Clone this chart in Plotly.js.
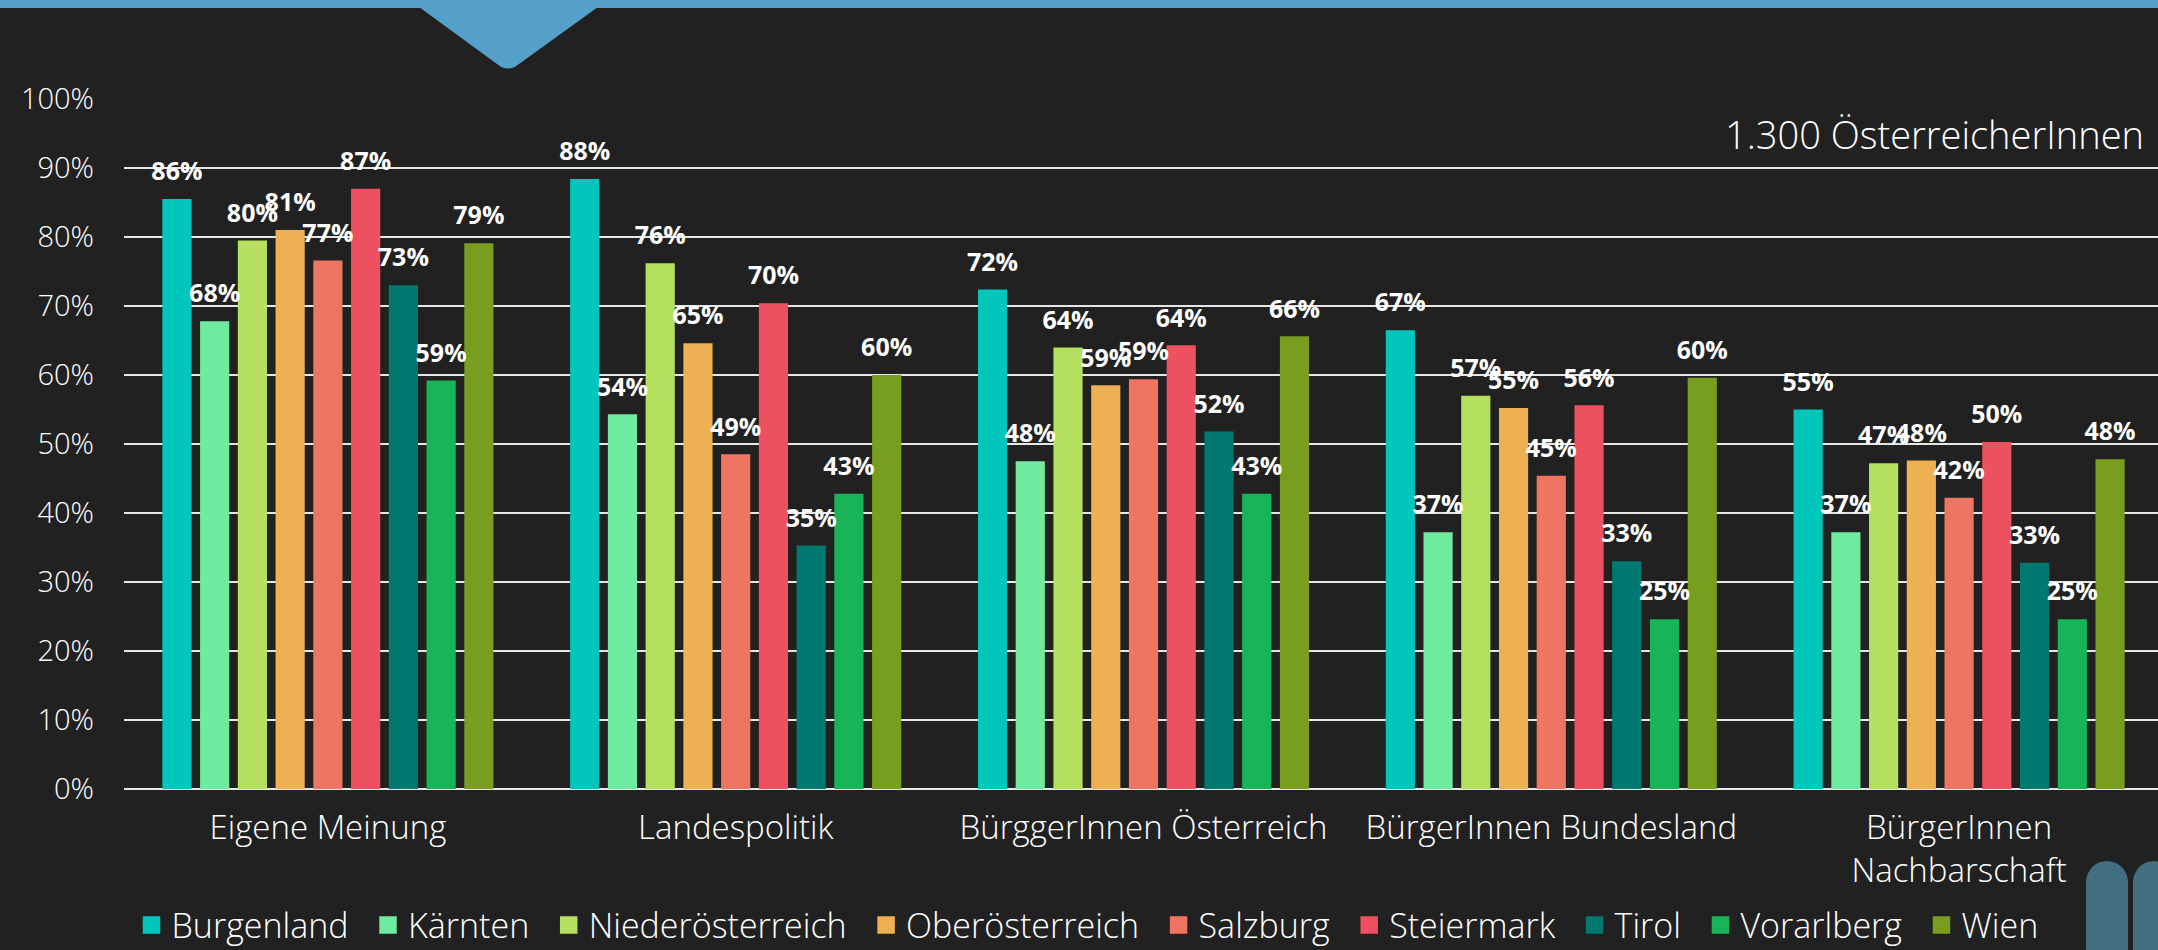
<!DOCTYPE html>
<html>
<head>
<meta charset="utf-8">
<script src="https://cdn.plot.ly/plotly-3.0.1.min.js"></script>
<style>
  html, body { margin: 0; padding: 0; background: #212121; overflow: hidden; }
  #wrap { position: relative; width: 2158px; height: 950px; overflow: hidden; }
  #chart { position: absolute; left: 0; top: 0; width: 2163px; height: 950px; }
  #deco { position: absolute; left: 0; top: 0; pointer-events: none; }
</style>
</head>
<body>
<div id="wrap">
  <div id="chart"></div>
  <svg id="deco" width="2158" height="950" xmlns="http://www.w3.org/2000/svg">
    <rect x="0" y="0" width="2158" height="8" fill="#55A0C8"/>
    <path d="M419,7 L497,64 Q508,73 519,64 L598,7 Z" fill="#55A0C8"/>
    <path d="M2086,950 L2086,882 A21,21 0 0 1 2128,882 L2128,950 Z" fill="#426E82"/>
    <path d="M2133,950 L2133,882 A21,21 0 0 1 2175,882 L2175,950 Z" fill="#426E82"/>
  </svg>
</div>
<script>
// ---- data ----
const categories = ['Eigene Meinung', 'Landespolitik', 'BürggerInnen Österreich', 'BürgerInnen Bundesland', 'BürgerInnen<br>Nachbarschaft'];
const seriesNames = ['Burgenland', 'Kärnten', 'Niederösterreich', 'Oberösterreich', 'Salzburg', 'Steiermark', 'Tirol', 'Vorarlberg', 'Wien'];
const seriesColors = ['#01C6BC', '#6EEB9F', '#B5DF5E', '#EDB052', '#EF7563', '#ED5160', '#017870', '#19B457', '#789E20'];

const burgenland       = [85.5, 88.4, 72.4, 66.5, 55.0];
const kaernten         = [67.8, 54.3, 47.5, 37.2, 37.2];
const niederoesterreich= [79.5, 76.2, 64.0, 57.0, 47.2];
const oberoesterreich  = [81.0, 64.6, 58.5, 55.2, 47.6];
const salzburg         = [76.6, 48.5, 59.4, 45.4, 42.2];
const steiermark       = [87.0, 70.4, 64.3, 55.6, 50.3];
const tirol            = [73.0, 35.3, 51.8, 33.0, 32.8];
const vorarlberg       = [59.2, 42.8, 42.8, 24.6, 24.6];
const wien             = [79.1, 60.0, 65.6, 59.6, 47.8];

const seriesValues = [burgenland, kaernten, niederoesterreich, oberoesterreich, salzburg, steiermark, tirol, vorarlberg, wien];

const yTickVals = [0, 10, 20, 30, 40, 50, 60, 70, 80, 90, 100];
const yTickText = ['0%', '10%', '20%', '30%', '40%', '50%', '60%', '70%', '80%', '90%', '100%'];
const noteText = '1.300 ÖsterreicherInnen';

// ---- traces ----
const FONT = '"Open Sans", Lato, sans-serif';
const traces = [];
seriesNames.forEach((name, i) => {
  traces.push({
    type: 'bar', name: name, x: categories, y: seriesValues[i],
    marker: { color: seriesColors[i] },
    showlegend: false, hoverinfo: 'x+y+name'
  });
});
// value labels (same bars on a slightly shifted overlay axis, invisible, labels outside)
seriesNames.forEach((name, i) => {
  traces.push({
    type: 'bar', name: name, x: categories, y: seriesValues[i], yaxis: 'y2',
    marker: { color: 'rgba(0,0,0,0)' },
    text: seriesValues[i].map(v => Math.round(v) + '%'),
    textposition: 'outside', cliponaxis: false, constraintext: 'none',
    textfont: { family: FONT, size: 25, color: '#FFFFFF', weight: 700 },
    showlegend: false, hoverinfo: 'skip'
  });
});
// legend entries
seriesNames.forEach((name, i) => {
  traces.push({
    type: 'scatter', mode: 'markers', name: name + '\u00a0\u2009', x: [null], y: [null],
    marker: { symbol: 'square', size: 16, color: seriesColors[i], line: { width: 1.5, color: seriesColors[i] } },
    showlegend: true, hoverinfo: 'skip'
  });
});

const layout = {
  width: 2163, height: 950,
  margin: { l: 124, r: 0, t: 99, b: 161 },
  paper_bgcolor: '#212121', plot_bgcolor: '#212121',
  font: { family: FONT, color: '#FFFFFF' },
  barmode: 'group', bargap: 0.167, bargroupgap: 0.227,
  xaxis: {
    type: 'category', showgrid: false, zeroline: false, showline: false,
    tickfont: { family: FONT, size: 33, color: '#FFFFFF', weight: 300 },
    ticks: '', ticklabelstandoff: 16
  },
  yaxis: {
    range: [0, 100], tickvals: yTickVals, ticktext: yTickText,
    showgrid: true, gridcolor: '#E6E6E6', gridwidth: 2,
    zeroline: true, zerolinecolor: '#E6E6E6', zerolinewidth: 2,
    showline: false, ticks: '', ticklabelstandoff: 29,
    tickfont: { family: FONT, size: 29, color: '#FFFFFF', weight: 300 }
  },
  yaxis2: {
    overlaying: 'y', range: [-1.28, 98.72], visible: false, showgrid: false, zeroline: false
  },
  showlegend: true,
  legend: {
    orientation: 'h', xref: 'container', yref: 'container',
    x: 0.0608, xanchor: 'left', y: 0.026, yanchor: 'middle',
    font: { family: FONT, size: 34, color: '#FFFFFF', weight: 300 },
    bgcolor: 'rgba(0,0,0,0)', itemclick: false
  },
  annotations: [{
    text: noteText, xref: 'paper', yref: 'y', x: 1, y: 95,
    xanchor: 'right', yanchor: 'middle', xshift: -17, showarrow: false,
    font: { family: FONT, size: 38, color: '#FFFFFF', weight: 300 }
  }]
};

Plotly.newPlot('chart', traces, layout, { displayModeBar: false, staticPlot: true });
</script>
</body>
</html>
